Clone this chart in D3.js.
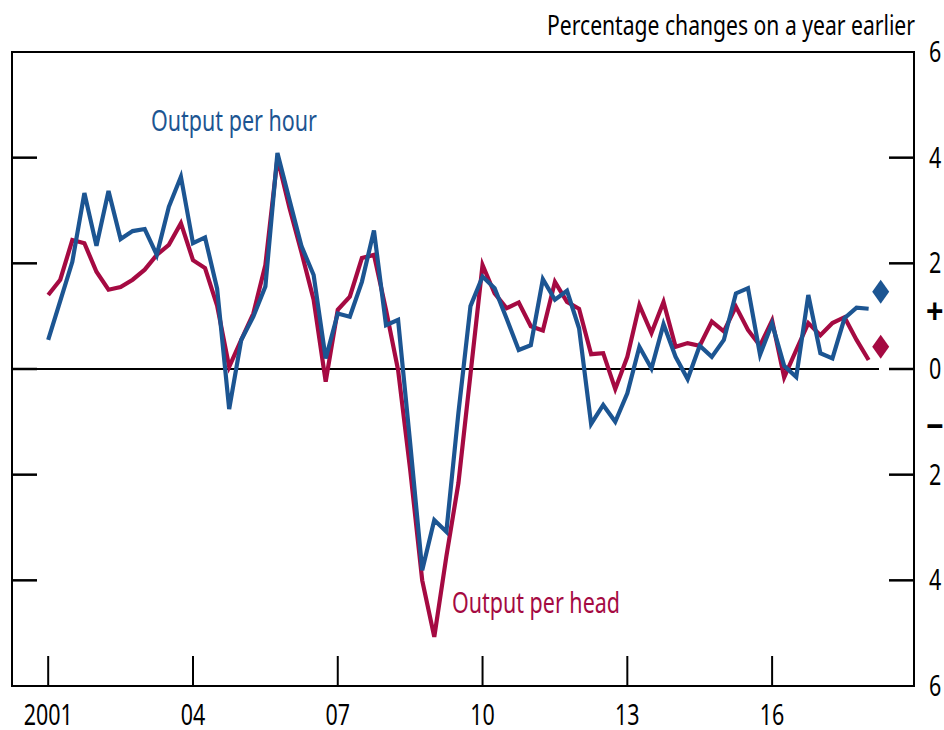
<!DOCTYPE html>
<html>
<head>
<meta charset="utf-8">
<script src="https://cdn.jsdelivr.net/npm/d3@7"></script>
<style>
body { margin: 0; background: #fff; }
text { font-family: "Noto Sans", "DejaVu Sans Condensed", sans-serif; }
</style>
</head>
<body>
<svg id="chart" width="944" height="730"></svg>
<script>

// quarterly data, first point is 2001 Q1
var FIRST_YEAR = 2001;

var perHour = [
    0.55, 1.29, 2.03, 3.33, 2.33, 3.37, 2.46, 2.61, 2.65, 2.16,
    3.07, 3.64, 2.38, 2.49, 1.52, -0.76, 0.55, 0.99, 1.56, 4.09,
    3.20, 2.32, 1.78, 0.20, 1.05, 0.99, 1.65, 2.62, 0.83, 0.93,
    -1.40, -3.81, -2.86, -3.08, -0.83, 1.19, 1.75, 1.53, 0.95, 0.36,
    0.45, 1.70, 1.31, 1.48, 0.77, -1.04, -0.68, -1.00, -0.46, 0.42,
    0.01, 0.85, 0.23, -0.19, 0.44, 0.23, 0.55, 1.43, 1.53, 0.27,
    0.86, 0.06, -0.15, 1.40, 0.30, 0.20, 0.96, 1.16, 1.14
];

var perHead = [
    1.40, 1.69, 2.44, 2.38, 1.84, 1.50, 1.55, 1.69, 1.88, 2.16,
    2.35, 2.76, 2.06, 1.91, 1.20, 0.04, 0.55, 1.05, 1.97, 3.99,
    3.05, 2.20, 1.31, -0.24, 1.12, 1.37, 2.10, 2.16, 1.12, -0.02,
    -1.90, -4.00, -5.07, -3.55, -2.16, -0.10, 1.97, 1.43, 1.15, 1.26,
    0.81, 0.73, 1.65, 1.27, 1.14, 0.28, 0.30, -0.38, 0.23, 1.21,
    0.68, 1.27, 0.42, 0.49, 0.44, 0.90, 0.71, 1.18, 0.74, 0.44,
    0.92, -0.16, 0.36, 0.87, 0.64, 0.87, 0.98, 0.55, 0.17
];

// diamonds: latest quarter (2018 Q2)
var latestHour = 1.46;
var latestHead = 0.42;
var latestYear = 2018.25;

var yearTicks = [2001, 2004, 2007, 2010, 2013, 2016];
var yearLabels = ["2001", "04", "07", "10", "13", "16"];

var valueTicks = [6, 4, 2, 0, -2, -4, -6];
var valueLabels = ["6", "4", "2", "0", "2", "4", "6"];

var BLUE = "#1c5592";
var RED = "#a50a42";
var SQUEEZE = 0.74;   // narrow the font to look like the condensed original

var svg = d3.select("#chart");

var x = d3.scaleLinear().domain([2000.25, 2018.94]).range([12, 914]);
var y = d3.scaleLinear().domain([-6, 6]).range([686, 52]);

function toPoints(vals) {
    return vals.map(function(v, i) { return { year: FIRST_YEAR + i / 4, value: v }; });
}

function narrowText(px, py, txt, size, anchor, squeeze) {
    return svg.append("text")
        .attr("transform", "translate(" + px + "," + py + ") scale(" + (squeeze || SQUEEZE) + ",1)")
        .attr("text-anchor", anchor || "start")
        .attr("font-size", size)
        .attr("fill", "#000")
        .text(txt);
}

// frame
svg.append("rect")
    .attr("x", x.range()[0]).attr("y", y.range()[1])
    .attr("width", x.range()[1] - x.range()[0])
    .attr("height", y.range()[0] - y.range()[1])
    .attr("fill", "none").attr("stroke", "#000").attr("stroke-width", 2);

// left ticks (inward)
svg.selectAll(".ltick")
    .data(valueTicks.filter(function(d) { return Math.abs(d) < 6; }))
    .enter().append("line")
    .attr("x1", 12).attr("x2", 37)
    .attr("y1", function(d) { return y(d); }).attr("y2", function(d) { return y(d); })
    .attr("stroke", "#000").attr("stroke-width", 2.5);

// right ticks (inward)
svg.selectAll(".rtick")
    .data(valueTicks.filter(function(d) { return Math.abs(d) < 6; }))
    .enter().append("line")
    .attr("x1", 889).attr("x2", 914)
    .attr("y1", function(d) { return y(d); }).attr("y2", function(d) { return y(d); })
    .attr("stroke", "#000").attr("stroke-width", 2.5);

// zero line
svg.append("line")
    .attr("x1", 12).attr("x2", 879)
    .attr("y1", y(0)).attr("y2", y(0))
    .attr("stroke", "#000").attr("stroke-width", 2);

// bottom ticks (upward)
svg.selectAll(".xtick")
    .data(yearTicks)
    .enter().append("line")
    .attr("x1", function(d) { return x(d); }).attr("x2", function(d) { return x(d); })
    .attr("y1", 686).attr("y2", 656)
    .attr("stroke", "#000").attr("stroke-width", 2);

yearTicks.forEach(function(d, i) {
    narrowText(x(d), 725, yearLabels[i], 29, "middle");
});

// right axis labels
valueTicks.forEach(function(d, i) {
    narrowText(929, y(d) + 10, valueLabels[i], 29, "start");
});
narrowText(926, y(1.08) + 12, "+", 36, "start", 0.85).attr("font-weight", "bold");
narrowText(926, y(-1.1) + 12, "\u2212", 36, "start", 0.85).attr("font-weight", "bold");

// title
svg.append("text")
    .attr("x", 547).attr("y", 35)
    .attr("font-size", 27)
    .attr("textLength", 368).attr("lengthAdjust", "spacingAndGlyphs")
    .text("Percentage changes on a year earlier");

// lines
var line = d3.line()
    .x(function(d) { return x(d.year); })
    .y(function(d) { return y(d.value); });

svg.append("path")
    .datum(toPoints(perHead))
    .attr("d", line)
    .attr("fill", "none").attr("stroke", RED)
    .attr("stroke-width", 4.2).attr("stroke-linejoin", "miter");

svg.append("path")
    .datum(toPoints(perHour))
    .attr("d", line)
    .attr("fill", "none").attr("stroke", BLUE)
    .attr("stroke-width", 4.2).attr("stroke-linejoin", "miter");

// latest-quarter diamonds
function diamond(cx, cy) {
    return "M" + cx + "," + (cy - 12) + "L" + (cx + 8.5) + "," + cy +
           "L" + cx + "," + (cy + 12) + "L" + (cx - 8.5) + "," + cy + "Z";
}
svg.append("path").attr("d", diamond(x(latestYear), y(latestHour))).attr("fill", BLUE);
svg.append("path").attr("d", diamond(x(latestYear), y(latestHead))).attr("fill", RED);

// series labels
svg.append("text")
    .attr("x", 151).attr("y", 131)
    .attr("font-size", 29).attr("fill", BLUE)
    .attr("textLength", 166).attr("lengthAdjust", "spacingAndGlyphs")
    .text("Output per hour");
svg.append("text")
    .attr("x", 452).attr("y", 613)
    .attr("font-size", 29).attr("fill", RED)
    .attr("textLength", 168).attr("lengthAdjust", "spacingAndGlyphs")
    .text("Output per head");

</script>
</body>
</html>
